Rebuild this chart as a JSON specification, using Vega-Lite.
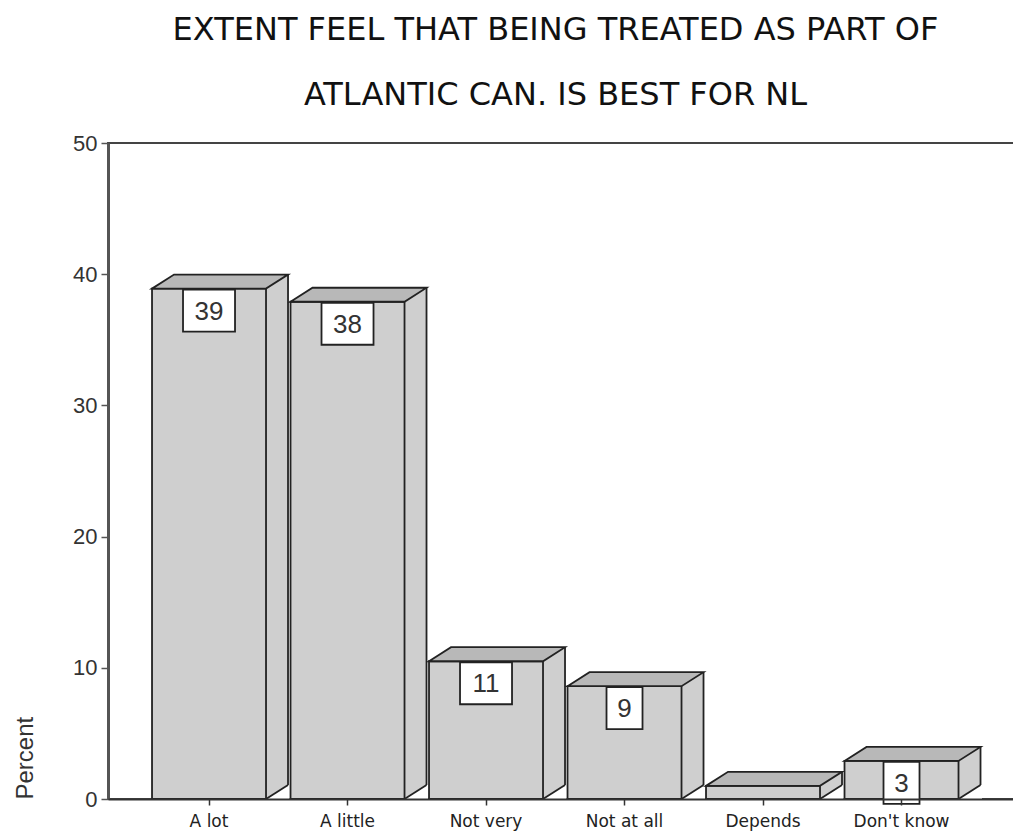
{
  "$schema": "https://vega.github.io/schema/vega-lite/v6.json",
  "width": 907,
  "height": 656,
  "autosize": {"type": "none"},
  "padding": {"left": 108, "top": 143, "right": 0, "bottom": 38},
  "background": "white",
  "config": {"view": {"stroke": "#444", "strokeWidth": 2}},
  "title": {
    "text": ["EXTENT FEEL THAT BEING TREATED AS PART OF", "ATLANTIC CAN. IS BEST FOR NL"],
    "font": "DejaVu Sans",
    "fontSize": 32,
    "fontWeight": "normal",
    "color": "#111",
    "lineHeight": 65,
    "anchor": "middle",
    "frame": "group",
    "offset": 20,
    "dx": -6
  },
  "data": {
    "values": [
      {"cat": "A lot", "pct": 38.9, "lab": "39"},
      {"cat": "A little", "pct": 37.9, "lab": "38"},
      {"cat": "Not very", "pct": 10.5, "lab": "11"},
      {"cat": "Not at all", "pct": 8.6, "lab": "9"},
      {"cat": "Depends", "pct": 1.0, "lab": ""},
      {"cat": "Don't know", "pct": 2.9, "lab": "3"}
    ]
  },
  "encoding": {
    "x": {
      "field": "cat",
      "type": "nominal",
      "sort": null,
      "scale": {"paddingInner": 0, "paddingOuter": 0.2744, "align": 0.418},
      "axis": {
        "title": null,
        "labelAngle": 0,
        "labelFont": "DejaVu Sans",
        "labelFontSize": 17,
        "labelColor": "#222",
        "tickSize": 6,
        "tickColor": "#333",
        "tickWidth": 1.5,
        "domainColor": "#333",
        "domainWidth": 2,
        "labelPadding": 8,
        "grid": false,
        "zindex": 1
      }
    },
    "y": {
      "field": "pct",
      "type": "quantitative",
      "scale": {"domain": [0, 50], "nice": false},
      "axis": {
        "title": "Percent",
        "values": [0, 10, 20, 30, 40, 50],
        "grid": false,
        "labelFont": "Liberation Sans",
        "labelFontSize": 22,
        "labelColor": "#333",
        "tickSize": 7,
        "tickColor": "#555",
        "tickWidth": 1.5,
        "domainColor": "#555",
        "domainWidth": 3,
        "labelPadding": 4,
        "titleFont": "Liberation Sans",
        "titleFontSize": 24,
        "titleFontWeight": "normal",
        "titleColor": "#333",
        "titleAngle": -90,
        "titleX": -83,
        "titleY": 656,
        "titleAlign": "left",
        "titleBaseline": "middle"
      }
    }
  },
  "layer": [
    {
      "mark": {"type": "bar", "width": 22, "xOffset": 68, "yOffset": -14, "fill": "#cfcfcf"},
      "encoding": {"y2": {"datum": 0}}
    },
    {
      "mark": {"type": "point", "shape": "M1,0L1.386,-0.246L1.412,-0.246L1.412,0.026L1,0.026Z", "size": 12996, "filled": true, "fill": "white", "strokeWidth": 0, "opacity": 1},
      "encoding": {"y": {"datum": 0, "type": "quantitative"}}
    },
    {
      "mark": {"type": "rule", "xOffset": 79, "yOffset": -14, "y2Offset": -14, "stroke": "#222", "strokeWidth": 1.8},
      "encoding": {"y2": {"datum": 0}}
    },
    {
      "mark": {"type": "point", "shape": "M1,0L1.386,-0.246", "size": 12996, "filled": false, "stroke": "#222", "strokeWidth": 1.8, "opacity": 1},
      "encoding": {"y": {"datum": 0, "type": "quantitative"}}
    },
    {
      "mark": {"type": "bar", "width": 114, "fill": "#cfcfcf", "stroke": "#222", "strokeWidth": 1.8},
      "encoding": {"y2": {"datum": 0}}
    },
    {
      "mark": {"type": "point", "shape": "M-1,0L-0.614,-0.246L1.386,-0.246L1,0Z", "size": 12996, "filled": true, "fill": "#b8b8b8", "stroke": "#222", "strokeWidth": 1.8, "opacity": 1}
    },
    {
      "transform": [{"filter": "length(datum.lab) == 2"}],
      "mark": {"type": "point", "shape": "M-1,-0.808L1,-0.808L1,0.808L-1,0.808Z", "size": 2704, "filled": true, "fill": "white", "stroke": "#222", "strokeWidth": 1.8, "opacity": 1, "yOffset": 22}
    },
    {
      "transform": [{"filter": "length(datum.lab) == 1"}],
      "mark": {"type": "point", "shape": "M-1,-1.167L1,-1.167L1,1.167L-1,1.167Z", "size": 1296, "filled": true, "fill": "white", "stroke": "#222", "strokeWidth": 1.8, "opacity": 1, "yOffset": 22}
    },
    {
      "transform": [{"filter": "length(datum.lab) > 0"}],
      "mark": {"type": "text", "font": "Liberation Sans", "fontSize": 26, "fill": "#333", "yOffset": 23, "baseline": "middle", "align": "center"},
      "encoding": {"text": {"field": "lab"}}
    }
  ]
}
